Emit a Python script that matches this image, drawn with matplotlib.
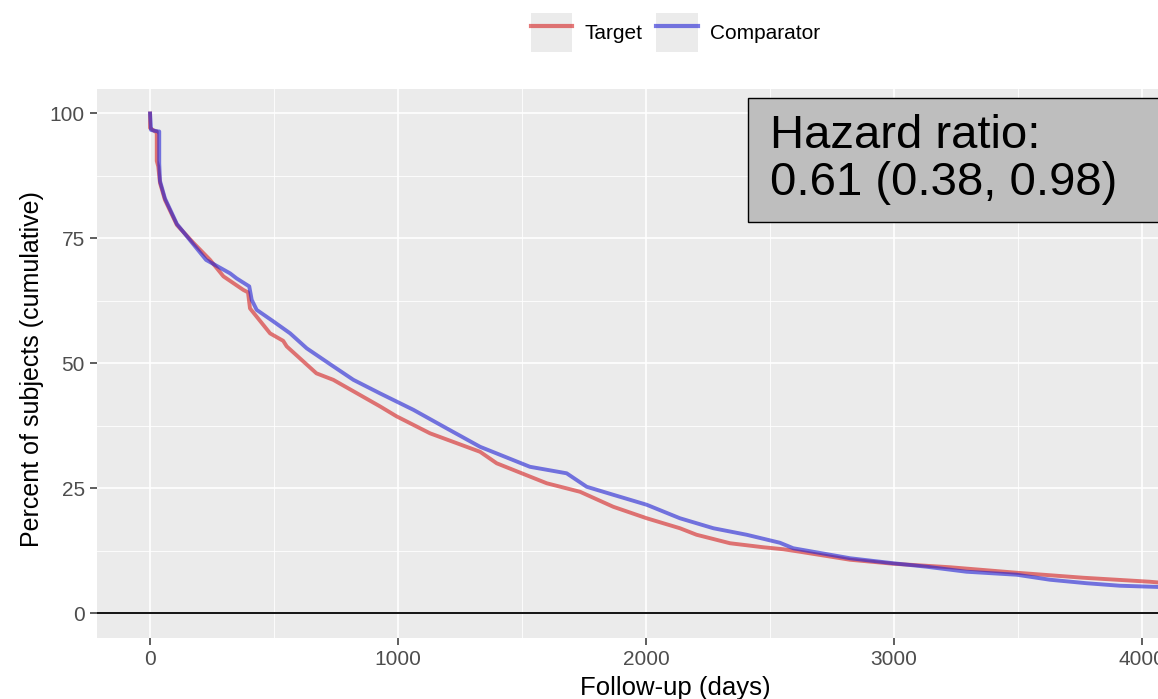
import matplotlib.pyplot as plt
from matplotlib.lines import Line2D
from matplotlib.patches import Patch, Rectangle
from matplotlib.legend_handler import HandlerTuple

plt.rcParams['font.family'] = ['Liberation Sans', 'DejaVu Sans']

# survival curves (days, percent)
target_days = [0, 0, 20, 27, 27, 33, 40, 60, 108, 175, 242, 296, 376, 395, 403, 484, 537, 551,
               671, 739, 927, 994, 1129, 1331, 1398, 1600, 1734, 1868, 2003, 2137, 2204, 2339,
               2473, 2554, 2621, 2823, 2997, 3226, 3495, 3763, 4032, 4100]
target_pct = [100, 97.1, 96.4, 96.4, 90.5, 89.4, 86.1, 82.7, 77.7, 74.1, 70.7, 67.4, 64.7, 64.2,
              61.0, 56.0, 54.5, 53.4, 48.0, 46.7, 41.4, 39.4, 36.0, 32.3, 30.0, 26.0, 24.3, 21.3,
              19.0, 17.0, 15.7, 14.0, 13.2, 12.8, 12.3, 10.7, 9.9, 9.2, 8.1, 7.1, 6.3, 6.0]

comp_days = [0, 4, 33, 37, 37, 40, 60, 108, 175, 226, 323, 349, 400, 410, 430, 497, 565, 632,
             739, 820, 927, 1062, 1196, 1331, 1532, 1680, 1761, 1868, 2003, 2137, 2272, 2406,
             2540, 2594, 2823, 2997, 3132, 3293, 3495, 3629, 3777, 3911, 4100]
comp_pct = [100, 96.7, 96.4, 96.4, 90.0, 86.5, 83.0, 77.9, 73.8, 70.7, 68.0, 67.0, 65.4, 62.7,
            60.7, 58.4, 56.0, 53.0, 49.4, 46.7, 44.0, 40.7, 37.0, 33.3, 29.3, 28.0, 25.3, 23.7,
            21.7, 19.0, 17.0, 15.7, 14.1, 13.0, 11.0, 10.0, 9.3, 8.3, 7.7, 6.7, 6.0, 5.5, 5.2]

series_names = ['Target', 'Comparator']
hr_text = ['Hazard ratio:', '0.61 (0.38, 0.98)']
x_ticks = [0, 1000, 2000, 3000, 4000]
y_ticks = [0, 25, 50, 75, 100]

red = '#d42020'
blue = '#2020d4'
W, H = 1158, 699

fig = plt.figure(figsize=(W / 100, H / 100), dpi=100)
ax = fig.add_axes([97.5 / W, 1 - 637.7 / H, (W - 97.5) / W, (637.7 - 89) / H])
ax.set_facecolor('#EBEBEB')
for s in ax.spines.values():
    s.set_visible(False)

ax.set_xlim(-212, 4065)
ax.set_ylim(-4.9, 104.9)
ax.set_xticks(x_ticks)
ax.set_yticks(y_ticks)
ax.set_xticks([500, 1500, 2500, 3500], minor=True)
ax.set_yticks([12.5, 37.5, 62.5, 87.5], minor=True)
ax.grid(True, which='major', color='white', lw=1.2)
ax.grid(True, which='minor', color='white', lw=0.6)
ax.set_axisbelow(True)
ax.tick_params(which='major', length=5, width=1.1, color='#333333', labelcolor='#4D4D4D',
               labelsize=15, pad=4)
ax.tick_params(which='minor', length=0)

ax.axhline(0, color='black', lw=1.3, zorder=2)
ax.plot(target_days, target_pct, color=red, alpha=0.6, lw=2.8, zorder=3)
ax.plot(comp_days, comp_pct, color=blue, alpha=0.6, lw=2.8, zorder=4)

fig.text(32 / W, 1 - 369 / H, 'Percent of subjects (cumulative)', rotation=90,
         ha='center', va='center', fontsize=18)
fig.text(675 / W, 1 - 695 / H, 'Follow-up (days)', ha='center', va='baseline', fontsize=18.5)

# hazard ratio box
fig.add_artist(Rectangle((748 / W, 1 - 222 / H), 430 / W, 124 / H, transform=fig.transFigure,
                         facecolor='#BEBEBE', edgecolor='black', lw=1.0, zorder=5))
fig.text(770 / W, 1 - 148 / H, hr_text[0], fontsize=34, va='baseline', zorder=6)
fig.text(770 / W, 1 - 195 / H, hr_text[1], fontsize=34, va='baseline', zorder=6)

# legend on top
handles = [(Patch(facecolor='#EBEBEB', edgecolor='none'), Line2D([], [], color=red, alpha=0.6, lw=3)),
           (Patch(facecolor='#EBEBEB', edgecolor='none'), Line2D([], [], color=blue, alpha=0.6, lw=3))]
fig.legend(handles, series_names, loc='center', bbox_to_anchor=(675.5 / W, 1 - 32.5 / H),
           ncol=2, frameon=False, fontsize=15, handlelength=2.0, handleheight=2.45,
           handletextpad=0.58, columnspacing=0.67, borderpad=0,
           handler_map={tuple: HandlerTuple(ndivide=1, pad=0)})

fig.savefig('out.png', dpi=100)
